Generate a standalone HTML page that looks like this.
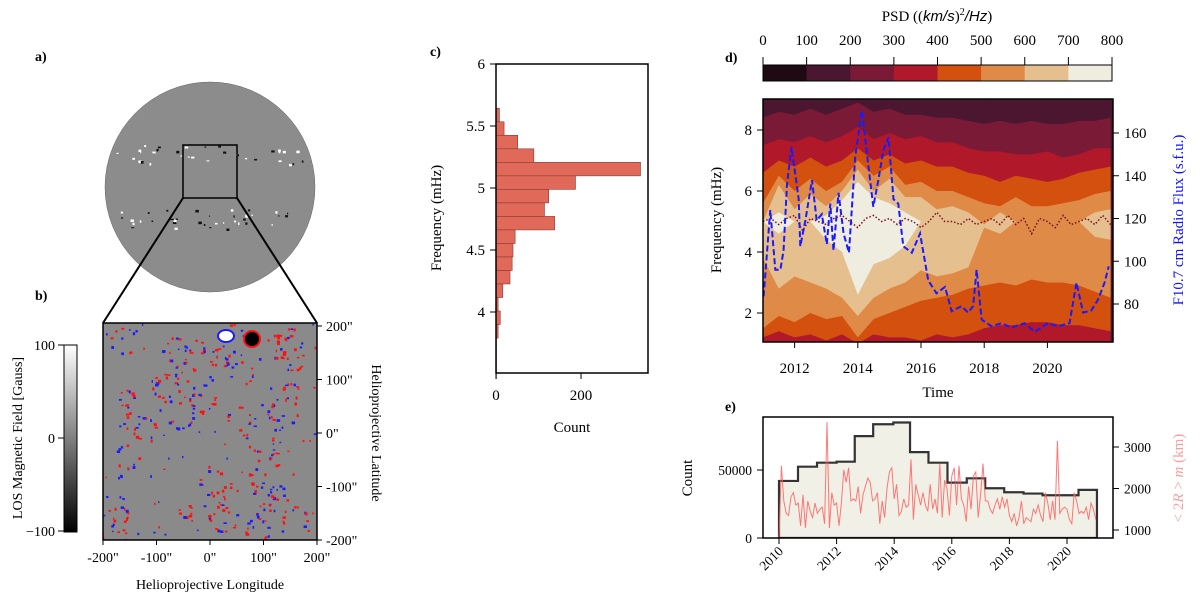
<!DOCTYPE html>
<html><head><meta charset="utf-8">
<style>
body{margin:0;background:#fff;}
svg{display:block;font-family:"Liberation Serif",serif;}
text{fill:#000;}
</style></head>
<body>
<svg id="fig" width="1200" height="601" viewBox="0 0 1200 601" xmlns="http://www.w3.org/2000/svg">
<defs>
<clipPath id="clipSun"><circle cx="210" cy="187" r="105"/></clipPath>
<clipPath id="clipB"><rect x="103" y="323" width="214" height="217"/></clipPath>
<clipPath id="clipD"><rect x="763" y="99" width="350" height="243"/></clipPath>
<clipPath id="clipE"><rect x="763" y="417" width="350" height="121"/></clipPath>
<linearGradient id="gbar" x1="0" y1="0" x2="0" y2="1"><stop offset="0" stop-color="#fff"/><stop offset="1" stop-color="#000"/></linearGradient>
</defs>
<g id="panelA">
<text x="35" y="61" font-weight="bold" font-size="14">a)</text>
<circle cx="210" cy="187" r="105" fill="#8c8c8c" stroke="#666" stroke-width="0.5"/>
<g id="sunSpots" clip-path="url(#clipSun)"></g>
<rect x="183" y="145" width="54" height="53" fill="none" stroke="#000" stroke-width="1.5"/>
<line x1="183" y1="198" x2="103" y2="323" stroke="#000" stroke-width="2"/>
<line x1="237" y1="198" x2="317" y2="323" stroke="#000" stroke-width="2"/>
</g>
<g id="panelB">
<text x="35" y="300" font-weight="bold" font-size="14">b)</text>
<rect x="103" y="323" width="214" height="217" fill="#8a8a8a"/>
<g id="bDots" clip-path="url(#clipB)"></g>
<rect x="103" y="323" width="214" height="217" fill="none" stroke="#000" stroke-width="1.5"/>
<rect x="64" y="345" width="13" height="187" fill="url(#gbar)" stroke="#000" stroke-width="1"/>
<g font-size="14" text-anchor="end">
<text x="55" y="350">100</text><text x="55" y="443">0</text><text x="55" y="536">−100</text>
</g>
<g stroke="#000"><line x1="58" y1="345" x2="64" y2="345"/><line x1="58" y1="438" x2="64" y2="438"/><line x1="58" y1="531" x2="64" y2="531"/></g>
<text transform="translate(22,438) rotate(-90)" text-anchor="middle" font-size="14">LOS Magnetic Field [Gauss]</text>
<g id="bTicks" font-size="14"></g>
<text x="210" y="589" text-anchor="middle" font-size="14">Helioprojective Longitude</text>
<text transform="translate(372,433) rotate(90)" text-anchor="middle" font-size="14">Helioprojective Latitude</text>
</g>
<g id="panelC">
<text x="430" y="56" font-weight="bold" font-size="14">c)</text>
<g id="cBars"></g>
<rect x="496" y="64" width="152" height="309" fill="none" stroke="#000" stroke-width="1.5"/>
<g id="cTicks" font-size="15"></g>
<text transform="translate(441,218) rotate(-90)" text-anchor="middle" font-size="15">Frequency (mHz)</text>
<text x="572" y="432" text-anchor="middle" font-size="15">Count</text>
</g>
<g id="panelD">
<text x="725" y="62" font-weight="bold" font-size="14">d)</text>
<text x="937" y="21" text-anchor="middle" font-size="15">PSD ((<tspan font-style="italic" font-family="Liberation Sans">km/s</tspan>)<tspan font-size="10" dy="-6">2</tspan><tspan dy="6" font-style="italic" font-family="Liberation Sans">/Hz</tspan>)</text>
<g id="dCbar"></g>
<g id="dContours" clip-path="url(#clipD)"></g>
<g id="dLines" clip-path="url(#clipD)"></g>
<rect x="763" y="99" width="350" height="243" fill="none" stroke="#000" stroke-width="1.5"/>
<g id="dTicks" font-size="15"></g>
<text transform="translate(721,220) rotate(-90)" text-anchor="middle" font-size="15">Frequency (mHz)</text>
<text transform="translate(1183,220) rotate(-90)" text-anchor="middle" font-size="15" style="fill:#1010ff">F10.7 cm Radio Flux (s.f.u.)</text>
<text x="938" y="397" text-anchor="middle" font-size="15">Time</text>
</g>
<g id="panelE">
<text x="725" y="411" font-weight="bold" font-size="14">e)</text>
<g id="eHist" clip-path="url(#clipE)"></g>
<rect x="763" y="417" width="350" height="121" fill="none" stroke="#000" stroke-width="1.5"/>
<g id="eTicks" font-size="13.5"></g>
<text transform="translate(692,478) rotate(-90)" text-anchor="middle" font-size="15">Count</text>
<text transform="translate(1183,478) rotate(-90)" text-anchor="middle" font-size="15" style="fill:#f4a0a0">&lt; 2<tspan font-style="italic">R</tspan> &gt; <tspan font-style="italic">m</tspan> (km)</text>
</g>
</svg>
<script>
// ---------- data ----------
const histBinTop = 5.643;
const histBinWidth = 0.109;
const histCounts = [8,19,51,89,340,187,124,114,138,45,40,38,33,16,5,10,5,1,1,1];
const cYTicks = [4,4.5,5,5.5,6];
const cXTicks = [0,200];

const psdLevels = [0,100,200,300,400,500,600,700,800];
const psdColors = ["#1f0a14","#4a1630","#7a1a36","#b11829","#d4500f","#e08a48","#e6bf8f","#efece0"];
const contourYears = [2011,2011.5,2012,2012.5,2013,2013.5,2014,2014.5,2015,2015.5,2016,2016.5,2017,2017.5,2018,2018.5,2019,2019.5,2020,2020.5,2021,2021.5,2022];
const hi200 = [8.4,8.6,8.5,8.7,8.5,8.7,8.9,8.6,8.7,8.5,8.5,8.4,8.4,8.3,8.2,8.3,8.2,8.3,8.2,8.2,8.3,8.3,8.4];
const lo200 = [0,0,0,0,0,0,0,0,0,0,0,0,0,0,0,0,0,0,0,0,0,0,0];
const hi300 = [7.5,7.7,7.6,7.8,7.6,7.8,8.1,7.7,7.9,7.7,7.8,7.6,7.6,7.4,7.3,7.3,7.2,7.2,7.3,7.1,7.2,7.4,7.4];
const lo300 = [0,0,0,0,0,0,0,0,0,0,0,0,0,0,0,0,0,0,0,0,0,0,0];
const hi400 = [6.6,7.0,6.8,7.1,6.8,7.0,7.4,7.0,7.2,6.9,7.0,6.8,6.8,6.6,6.5,6.3,6.5,6.4,6.3,6.4,6.6,6.7,6.8];
const lo400 = [1.2,1.4,1.2,1.3,1.1,1.3,1.0,1.3,1.2,1.2,1.1,1.3,1.2,1.3,1.5,1.6,1.6,1.7,1.7,1.6,1.6,1.5,1.4];
const hi500 = [5.6,6.5,6.0,6.4,6.0,6.3,7.0,6.5,6.8,6.2,6.3,6.0,6.0,5.8,5.6,5.5,5.8,5.5,5.5,5.6,5.7,5.9,6.0];
const lo500 = [1.5,1.9,1.7,2.0,1.8,1.9,1.2,1.8,2.0,2.2,2.4,2.5,2.6,2.8,2.9,3.0,2.9,3.1,3.0,3.0,2.9,2.7,2.5];
const hi600 = [5.0,6.2,5.4,5.9,5.5,6.0,6.7,6.0,6.4,5.8,5.8,5.4,5.5,5.3,4.9,5.3,5.0,5.0,5.0,5.0,5.0,5.3,5.4];
const lo600 = [3.8,2.8,3.2,3.0,2.8,2.5,1.9,2.5,2.8,3.0,3.4,3.2,3.3,3.5,4.8,4.6,5.0,5.0,5.0,5.0,5.0,4.5,4.4];
const hi700 = [5.0,5.3,5.0,5.0,5.2,5.7,6.3,5.8,5.6,5.3,5.0,5.0,5.0,5.0,5.0,5.0,5.0,5.0,5.0,5.0,5.0,5.0,5.0];
const lo700 = [5.0,4.6,5.0,5.0,4.4,4.0,2.6,3.6,3.8,4.2,5.0,5.0,5.0,5.0,5.0,5.0,5.0,5.0,5.0,5.0,5.0,5.0,5.0];

const fluxYears = [2011.02,2011.23,2011.39,2011.55,2011.65,2011.76,2011.9,2012.02,2012.13,2012.18,2012.34,2012.55,2012.7,2012.86,2013.02,2013.13,2013.23,2013.39,2013.55,2013.72,2013.92,2014.13,2014.34,2014.49,2014.65,2014.81,2014.97,2015.13,2015.28,2015.44,2015.71,2015.97,2016.23,2016.49,2016.76,2016.97,2017.28,2017.49,2017.65,2017.76,2017.92,2018.23,2018.55,2018.86,2019.28,2019.6,2020.02,2020.34,2020.7,2020.92,2021.13,2021.39,2021.6,2021.81,2021.94];
const fluxValues = [83.6,124,96,96,105,136,153.5,141,129,107,119,138,119,122,108,127,105,132,113,104,149,170.6,144,125.5,138,152,158,129,127,107,104,113,91,85,88,76.6,79,76,79,96,72.7,69.6,71,69,71,67,71,69.6,71,90,76,77,82,90,97.6];
const peakFreqStart = 2011;
const peakFreqStep = 0.25;
const peakFreq = [5.0,5.1,4.9,5.1,5.2,4.7,5.1,5.0,4.9,5.1,5.2,5.0,4.8,5.1,5.2,5.0,5.1,4.9,5.1,5.0,4.8,5.0,5.3,5.0,5.0,4.9,5.1,4.9,5.0,5.1,4.9,5.2,4.9,5.1,4.6,5.1,5.0,4.8,5.2,4.9,5.0,5.1,4.9,5.2,4.9];
const dYTicks = [2,4,6,8];
const dY2Ticks = [80,100,120,140,160];
const dXTicks = [2012,2014,2016,2018,2020];

const eEdges = [2010,2010.66,2011.32,2012.0,2012.63,2013.27,2013.97,2014.55,2015.19,2015.85,2016.52,2017.16,2017.82,2018.49,2019.15,2019.83,2020.4,2021.04];
const eCounts = [41950,52440,55360,56100,74900,83650,84900,63170,55360,40730,43900,36590,33660,32680,31460,31460,35370];
const sizeStart = 2010;
const sizeValues = [800,2550,1700,1400,1350,1800,1900,1600,1650,1100,1850,1050,
1700,1450,1300,1650,1400,1500,1550,1150,3600,1050,1900,1600,
1650,1100,1650,2450,2150,2500,1700,1750,1700,2050,1400,1850,
2050,2250,2150,1700,1750,1900,1150,1700,1300,2000,2400,2500,
1750,2100,1350,1450,1750,1550,1600,2700,1250,2100,1850,1600,
1900,1600,1450,2100,1500,1750,1400,2600,1300,2200,2000,1350,
2300,2500,1600,2550,1750,1600,1200,2050,1500,2300,2400,1300,
1850,2600,1700,1700,1500,1400,1600,1750,1500,1800,1550,1750,
1350,1200,1400,1100,1300,1700,1150,1300,1250,1200,1500,1400,
1600,1350,1200,1900,1650,1250,1700,1250,3150,1400,1500,1550,
1500,1250,1150,1900,1700,1400,1450,1400,1550,1250,1650,1500,1250];
const eYTicks = [0,50000];
const eY2Ticks = [1000,2000,3000];
const eXTicks = [2010,2012,2014,2016,2018,2020];

// ---------- helpers ----------
const NS="http://www.w3.org/2000/svg";
function mk(tag, attrs, parent){const e=document.createElementNS(NS,tag);for(const k in attrs)e.setAttribute(k,attrs[k]);parent.appendChild(e);return e;}
function txt(parent,x,y,s,anchor){const t=mk('text',{x:x,y:y,'text-anchor':anchor||'middle'},parent);t.textContent=s;return t;}

// ---------- panel a/b texture (deterministic) ----------
let seed=12345;function rnd(){seed=(seed*1103515245+12345)%2147483648;return seed/2147483648;}
const sun=document.getElementById('sunSpots');
for(let i=0;i<70;i++){const band=rnd()<0.5?-1:1;const x=115+rnd()*190;const y=187+band*(22+rnd()*20);
const s=mk('rect',{x:x,y:y,width:1+rnd()*2.5,height:1+rnd()*2,fill:rnd()<0.5?'#fff':'#111'},sun);

}
const bd=document.getElementById('bDots');
for(let c=0;c<40;c++){const cxp=103+rnd()*214,cyp=323+rnd()*217,rr=6+rnd()*8;
for(let j=0;j<9;j++){const a=rnd()*6.283;const red=rnd()<0.62;
const d=mk('rect',{x:cxp+rr*Math.cos(a),y:cyp+rr*Math.sin(a),width:1.5+rnd()*2,height:1.5+rnd()*1.5,fill:red?'#ff1010':'#1a1aff'},bd);

}}
for(let i=0;i<120;i++){const red=rnd()<0.5;
const d=mk('rect',{x:103+rnd()*214,y:323+rnd()*217,width:1.2+rnd()*1.5,height:1.2+rnd()*1.5,fill:red?'#ff1010':'#1a1aff'},bd);

}
mk('ellipse',{cx:226,cy:336,rx:8,ry:6,fill:'#fff',stroke:'#1a1aff','stroke-width':2},bd);
mk('ellipse',{cx:252,cy:339,rx:8,ry:8,fill:'#000',stroke:'#ff1010','stroke-width':2},bd);
const bt=document.getElementById('bTicks');
[-200,-100,0,100,200].forEach(v=>{const x=103+(v+200)/400*214;mk('line',{x1:x,y1:540,x2:x,y2:545,stroke:'#000'},bt);txt(bt,x,562,v+'"');
const y=326+(200-v)/400*214;mk('line',{x1:317,y1:y,x2:322,y2:y,stroke:'#000'},bt);txt(bt,326,y+5,v+'"','start');});

// ---------- panel c ----------
const cx0=496, cxs=85/200; const cy=f=>64+(6-f)*124;
const cb=document.getElementById('cBars');
histCounts.forEach((c,i)=>{const top=histBinTop-i*histBinWidth;
const r=mk('rect',{x:cx0,y:cy(top),width:c*cxs,height:histBinWidth*124,fill:'#e0695a',stroke:'#8a3a30','stroke-width':0.6},cb);

});
const ct=document.getElementById('cTicks');
cYTicks.forEach(v=>{const y=cy(v);mk('line',{x1:490,y1:y,x2:496,y2:y,stroke:'#000'},ct);txt(ct,485,y+5,String(v),'end');});
cXTicks.forEach(v=>{const x=cx0+v*cxs;mk('line',{x1:x,y1:373,x2:x,y2:379,stroke:'#000'},ct);txt(ct,x,400,String(v));});

// ---------- panel d ----------
const dx=yr=>763+(yr-2011)*31.6; const dy=f=>374-f*30.5; const dy2=v=>133+(160-v)*2.1375;
const cbar=document.getElementById('dCbar');
for(let i=0;i<8;i++){const x0=763+i*349/8;
const r=mk('rect',{x:x0,y:65,width:349/8+0.5,height:16,fill:psdColors[i]},cbar);

}
mk('rect',{x:763,y:65,width:349,height:16,fill:'none',stroke:'#000','stroke-width':1},cbar);
psdLevels.forEach((v,i)=>{const x=763+i*349/8;mk('line',{x1:x,y1:57,x2:x,y2:65,stroke:'#000'},cbar);txt(cbar,x,45,String(v)).setAttribute('font-size','15');});
const cont=document.getElementById('dContours');
mk('rect',{x:763,y:99,width:350,height:243,fill:psdColors[1]},cont);
const bands=[[hi200,lo200],[hi300,lo300],[hi400,lo400],[hi500,lo500],[hi600,lo600],[hi700,lo700]];
bands.forEach((b,k)=>{const hi=b[0],lo=b[1];let pts=[];
contourYears.forEach((yr,i)=>pts.push(dx(yr)+','+dy(hi[i])));
for(let i=contourYears.length-1;i>=0;i--)pts.push(dx(contourYears[i])+','+dy(lo[i]));
const p=mk('polygon',{points:pts.join(' '),fill:psdColors[k+2]},cont);

});
const dl=document.getElementById('dLines');
const pf=mk('polyline',{points:peakFreq.map((f,i)=>dx(peakFreqStart+i*peakFreqStep)+','+dy(f)).join(' '),fill:'none',stroke:'#7a1020','stroke-width':1.5,'stroke-dasharray':'1.5,2'},dl);


const fl=mk('polyline',{points:fluxYears.map((y,i)=>dx(y)+','+dy2(fluxValues[i])).join(' '),fill:'none',stroke:'#1a1aff','stroke-width':2,'stroke-dasharray':'6,3'},dl);


const dt=document.getElementById('dTicks');
dYTicks.forEach(v=>{const y=dy(v);mk('line',{x1:757,y1:y,x2:763,y2:y,stroke:'#000'},dt);txt(dt,752,y+5,String(v),'end');});
dY2Ticks.forEach(v=>{const y=dy2(v);mk('line',{x1:1113,y1:y,x2:1119,y2:y,stroke:'#000'},dt);txt(dt,1124,y+5,String(v),'start');});
dXTicks.forEach(v=>{const x=dx(v);mk('line',{x1:x,y1:342,x2:x,y2:348,stroke:'#000'},dt);txt(dt,x,373,String(v));});

// ---------- panel e ----------
const ex=yr=>779+(yr-2010)*28.8; const ey=c=>538-c*68/50000; const ey2=v=>530-(v-1000)*83/2000;
const eh=document.getElementById('eHist');
let pts=[ex(eEdges[0])+','+ey(0)];
eCounts.forEach((c,i)=>{pts.push(ex(eEdges[i])+','+ey(c));pts.push(ex(eEdges[i+1])+','+ey(c));});
pts.push(ex(eEdges[eEdges.length-1])+','+ey(0));
const hp=mk('polygon',{points:pts.join(' '),fill:'#f1f0e6',stroke:'#333','stroke-width':2.2},eh);


const sl=mk('polyline',{points:sizeValues.map((v,i)=>ex(sizeStart+i/12)+','+ey2(v)).join(' '),fill:'none',stroke:'#ff6060','stroke-width':1,'stroke-opacity':0.85},eh);


const et=document.getElementById('eTicks');
eYTicks.forEach(v=>{const y=ey(v);mk('line',{x1:757,y1:y,x2:763,y2:y,stroke:'#000'},et);txt(et,752,y+5,String(v),'end');});
eY2Ticks.forEach(v=>{const y=ey2(v);mk('line',{x1:1113,y1:y,x2:1119,y2:y,stroke:'#000'},et);txt(et,1124,y+5,String(v),'start');});
eXTicks.forEach(v=>{const x=ex(v);mk('line',{x1:x,y1:538,x2:x,y2:544,stroke:'#000'},et);
const t=mk('text',{x:0,y:0,'text-anchor':'end',transform:'translate('+(x+5)+',552) rotate(-45)'},et);t.textContent=String(v);});
</script>
</body></html>
